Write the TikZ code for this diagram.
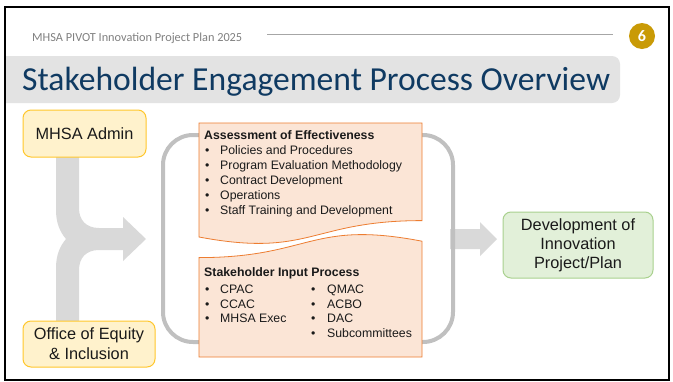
\documentclass[tikz,border=0pt]{standalone}
\usepackage{fontspec}
\setmainfont{Liberation Sans}
\newfontfamily\carlito{Carlito}
\definecolor{bandgray}{HTML}{E3E3E3}
\definecolor{titleblue}{HTML}{0F3A62}
\definecolor{hdrgray}{HTML}{808080}
\definecolor{hdrline}{HTML}{A6A6A6}
\definecolor{goldnum}{HTML}{C99A06}
\definecolor{arrowgray}{HTML}{D9D9D9}
\definecolor{bracketgray}{HTML}{C0C0C0}
\definecolor{yelfill}{HTML}{FFF2CC}
\definecolor{yeldraw}{HTML}{FFC72C}
\definecolor{orfill}{HTML}{FBE5D6}
\definecolor{ordraw}{HTML}{ED7D31}
\definecolor{grfill}{HTML}{E2F0D9}
\definecolor{grdraw}{HTML}{A9D18E}
\definecolor{bodytxt}{HTML}{1A1A1A}
\tikzset{
  yelbox/.style={draw=yeldraw, fill=yelfill, line width=1pt, rounded corners=8pt, align=center,
    font=\fontsize{16.3}{20}\selectfont, inner sep=0pt, text=bodytxt},
  grbox/.style={draw=grdraw, fill=grfill, line width=1pt, rounded corners=8pt, align=center,
    font=\fontsize{16.3}{19}\selectfont, inner sep=0pt, text=bodytxt},
  orbox/.style={draw=ordraw, fill=orfill, line width=0.8pt},
  blockarrow/.style={fill=arrowgray},
  listtxt/.style={anchor=base west, inner sep=0pt, text=bodytxt, font=\fontsize{12.3}{15}\selectfont},
  listhead/.style={listtxt, font=\fontsize{12.3}{15}\selectfont\bfseries},
}
\begin{document}
\begin{tikzpicture}[x=1pt,y=-1pt]
\useasboundingbox (0,0) rectangle (673,381);
\fill[white] (0,0) rectangle (673,381);

% title band
\begin{scope}
  \clip (5,7) rectangle (669,380);
  \fill[bandgray, rounded corners=8pt] (-10,56) rectangle (620,103);
\end{scope}
\node[anchor=base west, inner sep=0pt, text=titleblue,
      font=\carlito\fontsize{33.6}{36}\selectfont] (title) at (22,90.5)
      {Stakeholder Engagement Process Overview};

% header
\node[anchor=base west, inner sep=0pt, text=hdrgray,
      font=\carlito\fontsize{12.3}{14}\selectfont] (hdr) at (32,41)
      {MHSA PIVOT Innovation Project Plan 2025};
\coordinate (hl1) at (267,34);
\coordinate (hl2) at (613,34);
\draw[hdrline, line width=0.8pt] (hl1) -- (hl2);
\node[circle, fill=goldnum, minimum size=26pt, inner sep=0pt, text=white,
      font=\carlito\bfseries\fontsize{16}{17}\selectfont] (num) at (642,36) {6};

% merging arrow
\fill[blockarrow] (56,157) -- (79,157) -- (79,208)
  .. controls (79,220) and (86,228) .. (99,228) -- (123,228) -- (123,217)
  -- (146,239) -- (123,261) -- (123,250) -- (99,250)
  .. controls (86,250) and (79,258) .. (79,270) -- (79,321) -- (56,321) -- (56,268)
  .. controls (56,255) and (60,246) .. (66,239)
  .. controls (60,232) and (56,223) .. (56,210) -- cycle;

% right arrow
\fill[blockarrow] (450,229) -- (480,229) -- (480,222) -- (497,239) -- (480,256)
  -- (480,249) -- (450,249) -- cycle;

% bracket
\draw[bracketgray, line width=4pt, rounded corners=30pt] (163,135) rectangle (453,342);

% orange boxes
\filldraw[orbox] (199,123) -- (422,123) -- (422,220.6)
  .. controls (310.5,220.6) and (310.5,258) .. (199,237) -- cycle;
\filldraw[orbox] (199,257.6) .. controls (310.5,257.6) and (310.5,219.7) .. (422,241.2)
  -- (422,357) -- (199,357) -- cycle;

% top box text
\node[listhead] (ah) at (204,139.5) {Assessment of Effectiveness};
\foreach \t [count=\i] in {Policies and Procedures, Program Evaluation Methodology,
    Contract Development, Operations, Staff Training and Development}{
  \node[listtxt] (ab\i) at (205,{139.5+15*\i}) {•};
  \node[listtxt] (at\i) at (220,{139.5+15*\i}) {\t};
}

% bottom box text
\node[listhead] (sh) at (204,276.5) {Stakeholder Input Process};
\foreach \t [count=\i] in {CPAC, CCAC, MHSA Exec}{
  \node[listtxt] (sb\i) at (205,{278.8+14.7*\i}) {•};
  \node[listtxt] (st\i) at (220,{278.8+14.7*\i}) {\t};
}
\foreach \t [count=\i] in {QMAC, ACBO, DAC, Subcommittees}{
  \node[listtxt] (rb\i) at (311,{278.8+14.7*\i}) {•};
  \node[listtxt] (rt\i) at (327,{278.8+14.7*\i}) {\t};
}

% side boxes
\node[yelbox, minimum width=123pt, minimum height=47pt] (admin) at (84.5,133.5) {MHSA Admin};
\node[yelbox, minimum width=132pt, minimum height=46pt] (equity) at (89,344)
  {Office of Equity\\\& Inclusion};
\node[grbox, minimum width=150pt, minimum height=66pt] (dev) at (578,245)
  {Development of\\Innovation\\Project/Plan};

% frame
\draw[black, line width=2pt] (5,7) rectangle (669,380);
\end{tikzpicture}
\end{document}
